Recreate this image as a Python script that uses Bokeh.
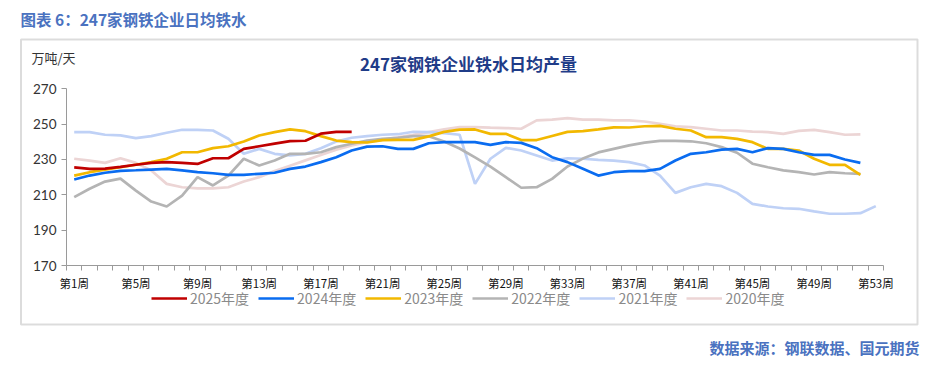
from bokeh.plotting import figure
from bokeh.models import Range1d, FixedTicker, Label, BoxAnnotation, Legend, LegendItem
from bokeh.embed import file_html
from bokeh.resources import INLINE

# ---------------- data ----------------
weeks = list(range(1, 54))
tick_weeks = [1, 5, 9, 13, 17, 21, 25, 29, 33, 37, 41, 45, 49, 53]
tick_labels = ["第1周", "第5周", "第9周", "第13周", "第17周", "第21周", "第25周",
               "第29周", "第33周", "第37周", "第41周", "第45周", "第49周", "第53周"]
y_ticks = [170, 190, 210, 230, 250, 270]

series_names = ["2025年度", "2024年度", "2023年度", "2022年度", "2021年度", "2020年度"]

s2025 = [225.5, 224.7, 224.8, 225.8, 227.0, 228.1, 228.5, 228.1, 227.5, 230.7,
         230.7, 236.0, 237.5, 239.0, 240.4, 240.6, 244.6, 245.6, 245.6]

s2024 = [218.7, 220.9, 222.5, 223.6, 223.9, 224.3, 224.7, 223.8, 222.8, 222.2,
         221.3, 221.3, 221.9, 222.5, 224.7, 226.0, 228.5, 231.3, 235.1, 237.3,
         237.5, 236.0, 236.0, 239.2, 239.8, 239.8, 239.8, 238.3, 239.8, 239.4,
         236.4, 231.3, 228.5, 224.7, 220.9, 222.8, 223.4, 223.4, 224.7, 229.4,
         233.2, 234.1, 235.6, 236.0, 234.1, 236.4, 236.0, 234.1, 232.6, 232.6,
         230.0, 228.1]

s2023 = [220.9, 222.8, 224.3, 225.6, 227.0, 228.5, 230.4, 234.1, 234.1, 236.4,
         237.5, 240.2, 243.6, 245.5, 247.0, 246.0, 243.2, 240.7, 239.8, 239.6,
         241.0, 241.1, 241.1, 243.1, 245.6, 246.9, 247.0, 244.5, 244.5, 241.0,
         241.0, 243.3, 245.6, 246.0, 247.0, 248.2, 248.1, 248.8, 249.0, 247.4,
         246.4, 242.6, 242.6, 241.7, 239.8, 236.0, 236.0, 235.1, 230.4, 227.0,
         227.0, 221.3]

s2022 = [208.7, 213.4, 217.5, 219.2, 212.4, 206.2, 203.4, 209.6, 220.0, 215.3,
         220.9, 230.4, 226.6, 229.4, 233.2, 233.2, 234.1, 237.0, 238.9, 240.7,
         241.7, 242.3, 243.2, 243.2, 240.2, 236.2, 231.2, 226.0, 220.0, 214.0,
         214.3, 219.0, 226.0, 230.5, 234.0, 236.0, 238.0, 239.5, 240.5, 240.5,
         240.3, 239.2, 237.0, 233.8, 227.6, 225.6, 223.8, 222.8, 221.5, 222.8,
         222.2, 221.9]

s2021 = [245.5, 245.5, 244.0, 243.6, 242.1, 243.2, 245.1, 246.8, 246.8, 246.4,
         241.7, 233.2, 236.0, 233.2, 232.3, 233.2, 236.4, 240.2, 242.3, 243.2,
         244.0, 244.3, 245.7, 245.5, 244.9, 244.0, 216.2, 230.4, 236.6, 235.1,
         232.3, 229.4, 230.7, 230.4, 229.8, 229.4, 228.5, 226.6, 220.9, 211.1,
         214.3, 216.2, 214.9, 211.1, 204.9, 203.4, 202.4, 202.1, 200.6, 199.3,
         199.3, 199.6, 203.6]

s2020 = [230.4, 229.4, 228.1, 230.7, 228.1, 223.8, 216.2, 214.3, 213.7, 213.7,
         214.3, 217.5, 220.0, 223.5, 226.5, 229.5, 232.5, 235.5, 238.0, 239.8,
         241.1, 242.6, 244.0, 245.5, 247.0, 248.3, 248.3, 248.0, 247.8, 247.4,
         252.1, 252.6, 253.4, 252.6, 252.5, 252.1, 252.1, 251.5, 250.2, 248.8,
         248.3, 247.4, 246.4, 246.4, 245.8, 245.5, 244.5, 246.2, 246.8, 245.5,
         244.0, 244.2]

series_values = [s2025, s2024, s2023, s2022, s2021, s2020]
series_colors = ["#C00000", "#0A6CF0", "#F2B800", "#B4B4B4", "#BFD1F6", "#ECD5D5"]

# ---------------- layout geometry (canvas pixels) ----------------
W, H = 940, 370
AX_L, AX_R = 66.0, 883.0      # pixel x of the plot area's left/right edges
AX_T, AX_B = 88.3, 265.0      # pixel y of the value axis top (270) / bottom (170)
X0, X1 = 0.5, 53.5
Y0, Y1 = 170, 270
ppx = (AX_R - AX_L) / (X1 - X0)
ppy = (AX_B - AX_T) / (Y1 - Y0)
x_start = X0 - AX_L / ppx
x_end = X1 + (W - AX_R) / ppx
y_start = Y0 - (H - AX_B) / ppy
y_end = Y1 + AX_T / ppy

p = figure(width=W, height=H, output_backend="svg", toolbar_location=None,
           x_range=Range1d(x_start, x_end), y_range=Range1d(y_start, y_end),
           min_border_left=0, min_border_right=0, min_border_top=0, min_border_bottom=0)
p.outline_line_color = None
p.xgrid.visible = False
p.ygrid.visible = False
p.background_fill_color = "white"
p.border_fill_color = "white"


def sx(cx):
    return cx


def sy(cy):
    return H - cy


# axes drawn at fixed locations inside the full-canvas frame
xa = p.xaxis[0]
xa.fixed_location = Y0
xa.bounds = (X0, X1)
xa.ticker = FixedTicker(ticks=tick_weeks, minor_ticks=[w - 0.5 for w in weeks] + [53.5])
xa.major_label_overrides = {w: t for w, t in zip(tick_weeks, tick_labels)}
xa.major_tick_out = 0
xa.major_tick_in = 0
xa.minor_tick_out = 5
xa.minor_tick_in = 0
xa.minor_tick_line_color = "#9a9a9a"
xa.axis_line_color = "#9a9a9a"
xa.major_label_standoff = 4
xa.major_label_text_font = "Noto Sans CJK SC"
xa.major_label_text_font_size = "11.5px"
xa.major_label_text_color = "#111111"

ya = p.yaxis[0]
ya.fixed_location = X0
ya.bounds = (Y0, Y1)
ya.ticker = FixedTicker(ticks=y_ticks, minor_ticks=[])
ya.major_tick_out = 5
ya.major_tick_in = 0
ya.major_tick_line_color = "#9a9a9a"
ya.axis_line_color = "#9a9a9a"
ya.major_label_standoff = 5
ya.major_label_text_font = "Lato"
ya.major_label_text_font_size = "13.5px"
ya.major_label_text_color = "#333333"

# lines (older drawn first)
renderers = {}
for name, vals, col in reversed(list(zip(series_names, series_values, series_colors))):
    r = p.line(weeks[:len(vals)], vals, line_color=col, line_width=2.7)
    renderers[name] = r

legend = Legend(items=[LegendItem(label=n, renderers=[renderers[n]]) for n in series_names],
                orientation="horizontal", location=(sx(151), sy(308)),
                glyph_width=36, glyph_height=14, label_standoff=3, spacing=9,
                padding=0, margin=0, border_line_color=None, background_fill_alpha=0,
                label_text_font="Noto Sans CJK SC", label_text_font_size="14px",
                label_text_color="#8a8a8a")
p.add_layout(legend, "center")

# frame box
box = BoxAnnotation(left=sx(20.5), right=sx(917), top=sy(39), bottom=sy(324),
                    left_units="screen", right_units="screen", top_units="screen", bottom_units="screen",
                    fill_alpha=0, line_color="#8c8c8c", line_width=2)
p.add_layout(box)

title_color = "#4A72C0"
p.add_layout(Label(x=sx(20), y=sy(18), x_units="screen", y_units="screen", text="图表 6：247家钢铁企业日均铁水",
                   text_font="Noto Sans CJK SC", text_font_style="bold", text_font_size="15.5px",
                   text_color=title_color, text_baseline="middle", text_align="left"))
p.add_layout(Label(x=sx(468), y=sy(63), x_units="screen", y_units="screen", text="247家钢铁企业铁水日均产量",
                   text_font="Noto Sans CJK SC", text_font_style="bold", text_font_size="17px",
                   text_color="#1F3C88", text_baseline="middle", text_align="center"))
p.add_layout(Label(x=sx(31), y=sy(57), x_units="screen", y_units="screen", text="万吨/天",
                   text_font="Noto Sans CJK SC", text_font_size="13px",
                   text_color="#333333", text_baseline="middle", text_align="left"))
p.add_layout(Label(x=sx(919), y=sy(347), x_units="screen", y_units="screen", text="数据来源：钢联数据、国元期货",
                   text_font="Noto Sans CJK SC", text_font_style="bold", text_font_size="15px",
                   text_color=title_color, text_baseline="middle", text_align="right"))

open("out.html", "w").write(file_html(p, INLINE))
